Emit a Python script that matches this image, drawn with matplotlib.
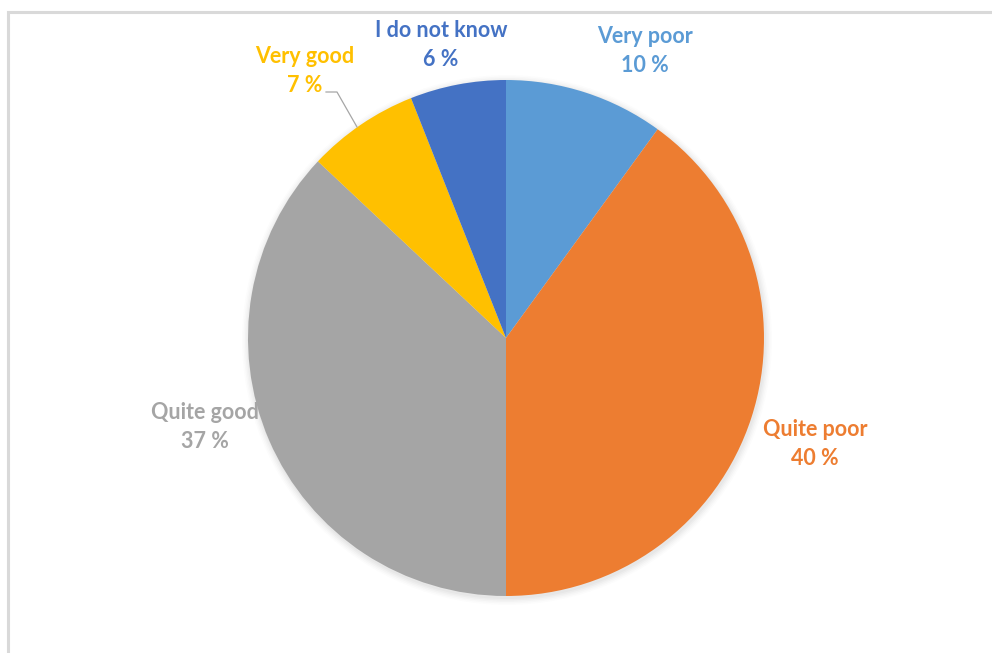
"""Pie chart of quality ratings."""
import matplotlib
matplotlib.use("Agg")
import matplotlib.pyplot as plt
from matplotlib.patches import Rectangle

labels = ["Very poor", "Quite poor", "Quite good", "Very good", "I do not know"]
shares = [10, 40, 37, 7, 6]
colors = ["#5B9BD5", "#ED7D31", "#A5A5A5", "#FFC000", "#4472C4"]

# label anchor points (pixel coords, y measured from top)
label_pos = {
    "Very poor": (645, 51),
    "Quite poor": (815, 444),
    "Quite good": (205, 427),
    "Very good": (305, 71),
    "I do not know": (441, 45),
}

W, H = 992, 653
fig = plt.figure(figsize=(W / 100, H / 100), dpi=100)
ax = fig.add_axes([0, 0, 1, 1])

# chart frame, clipped by the figure on the right and bottom
ax.add_patch(Rectangle((8, -20), 1100, H - 12 + 20, fill=False,
                       edgecolor="#D9D9D9", linewidth=2.2))

cx, cy, r = 506, H - 338, 258

# soft shadow under the pie
for i, a in enumerate([0.025, 0.025, 0.02, 0.015, 0.01]):
    shadow = plt.Circle((cx + 1, cy - 2), r + 1 + i * 1.5, color="black",
                        alpha=a, linewidth=0)
    ax.add_patch(shadow)

ax.pie(shares, colors=colors, startangle=90, counterclock=False,
       center=(cx, cy), radius=r, frame=True,
       wedgeprops={"linewidth": 0})
ax.set_xlim(0, W)
ax.set_ylim(0, H)
ax.set_aspect("equal")
ax.axis("off")

for name, val, col in zip(labels, shares, colors):
    x, y = label_pos[name]
    ax.text(x, H - y, f"{name}\n{val} %", color=col, ha="center",
            va="center", fontsize=15.5, fontweight="bold", family="Lato",
            linespacing=1.5)

# leader line for the small "Very good" slice
ax.plot([326, 337, 357], [H - 92, H - 92, H - 127], color="#A6A6A6",
        linewidth=0.9)

fig.savefig("out.png", dpi=100)
